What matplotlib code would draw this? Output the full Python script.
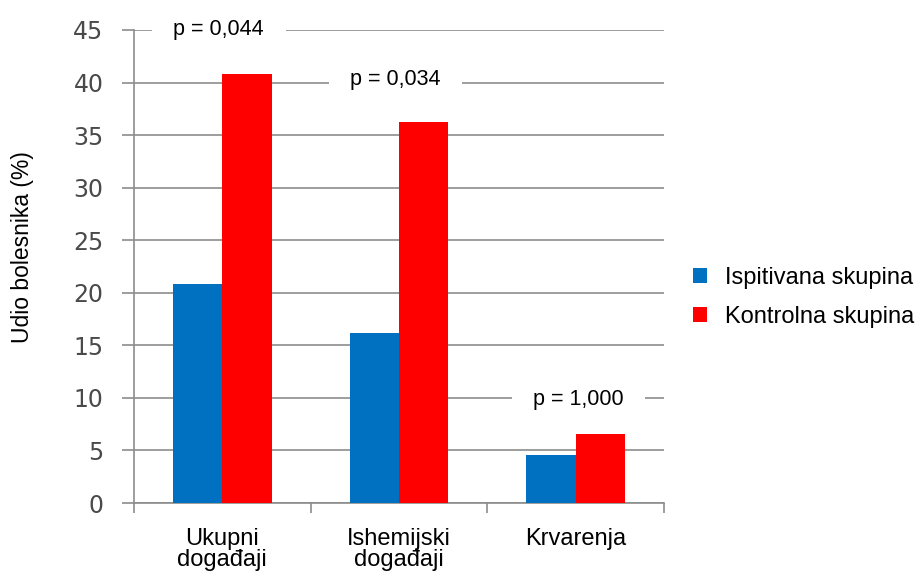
import numpy as np
import matplotlib.pyplot as plt

categories = ['Ukupni\ndogađaji', 'Ishemijski\ndogađaji', 'Krvarenja']
ispitivana = [20.8, 16.2, 4.6]
kontrolna = [40.8, 36.2, 6.6]
p_labels = ['p = 0,044', 'p = 0,034', 'p = 1,000']
p_y = [45, 40.3, 9.8]
p_dx = [-0.02, -0.02, 0.015]

fig = plt.figure(figsize=(9.21, 5.76), dpi=100)
ax = fig.add_axes([0.1455, 0.1267, 0.5755, 0.8213])

x = np.arange(len(categories))
w = 0.28
ax.bar(x - w / 2, ispitivana, w, color='#0070c0', label='Ispitivana skupina', zorder=3)
ax.bar(x + w / 2, kontrolna, w, color='#ff0000', label='Kontrolna skupina', zorder=3)

ax.set_xlim(-0.5, 2.5)
ax.set_ylim(0, 45)
ax.set_yticks(range(0, 50, 5))
ax.yaxis.grid(True, color='#8c8c8c', linewidth=1.2, zorder=0)

for s in ['top', 'right']:
    ax.spines[s].set_visible(False)
for s in ['left', 'bottom']:
    ax.spines[s].set_color('#8c8c8c')
    ax.spines[s].set_linewidth(1.2)

ax.set_xticks([-0.5, 0.5, 1.5, 2.5])
ax.set_xticklabels([])
ax.set_xticks(x, minor=True)
ax.set_xticklabels(categories, minor=True, fontsize=17, family='Liberation Sans', linespacing=0.95)
ax.tick_params(axis='x', which='major', length=7, color='#8c8c8c', width=1.2)
ax.tick_params(axis='x', which='minor', length=0, pad=18)
ax.tick_params(axis='y', length=9, color='#8c8c8c', width=1.2, labelsize=17, labelcolor='#4a4a4a', pad=13)
for t in ax.get_yticklabels():
    t.set_family('DejaVu Sans')

fig.text(23 / 921, 1 - 247 / 576, 'Udio bolesnika (%)', rotation=90, ha='center', va='center',
         fontsize=16.5, family='Liberation Sans')

for xi, lab, yy, dx in zip(x, p_labels, p_y, p_dx):
    ax.text(xi + dx, yy, lab, ha='center', va='center', fontsize=15.5,
            family='Liberation Sans', zorder=4,
            bbox=dict(boxstyle='square,pad=1.0', facecolor='white', edgecolor='none'))

ax.legend(loc='center left', bbox_to_anchor=(693 / 921, 1 - 297.5 / 576), bbox_transform=fig.transFigure,
          frameon=False, prop={'family': 'Liberation Sans', 'size': 17}, handlelength=0.6,
          handleheight=0.6, handletextpad=0.75, labelspacing=0.72, borderpad=0, borderaxespad=0)

fig.savefig('out.png', dpi=100)
